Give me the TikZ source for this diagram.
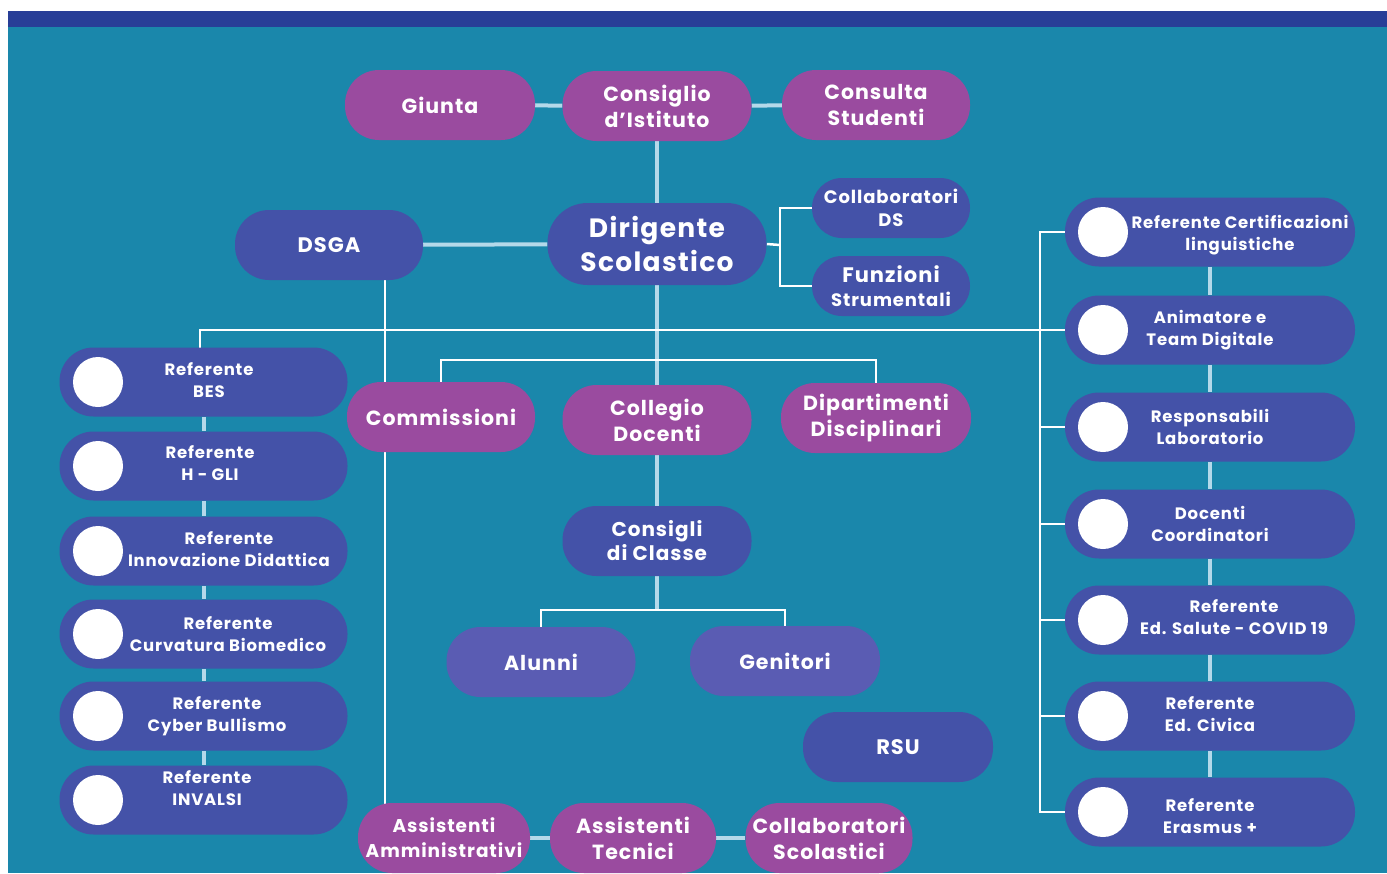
\documentclass[tikz,border=0pt]{standalone}
\usepackage{fontspec}
\setmainfont{Poppins}[LetterSpace=5]
\usetikzlibrary{calc}
\definecolor{tealbg}{HTML}{1A87AB}
\definecolor{bandc}{HTML}{283E97}
\definecolor{magc}{HTML}{9A4B9F}
\definecolor{bluc}{HTML}{4452A8}
\definecolor{lbluc}{HTML}{5A5CB3}
\definecolor{connc}{HTML}{B4D9EA}
\pgfdeclarelayer{bg}
\pgfdeclarelayer{lines}
\pgfsetlayers{bg,lines,main}
\tikzset{
  box/.style={rounded corners=34pt, minimum height=70pt, inner sep=0pt, text=white, align=center,
              font=\bfseries\fontsize{20.5}{26}\selectfont},
  mag/.style={box, fill=magc},
  blu/.style={box, fill=bluc},
  lblu/.style={box, fill=lbluc},
  colbox/.style={box, fill=bluc, minimum width=288pt, minimum height=69pt},
  ctext/.style={text=white, align=center, inner sep=0pt, font=\bfseries\fontsize{16.5}{21.5}\selectfont},
  dot/.style={circle, fill=white, minimum size=50pt, inner sep=0pt},
  wl/.style={draw=white, line width=2.5pt},
  lb/.style={draw=connc, line width=4pt},
}
\begin{document}
\begin{tikzpicture}[x=1pt,y=-1pt]
\useasboundingbox (0,0) rectangle (1387,873);
\begin{pgfonlayer}{bg}
\fill[white] (0,0) rectangle (1387,873);
\fill[tealbg] (8,11) rectangle (1387,873);
\fill[bandc] (8,11) rectangle (1387,27);
\end{pgfonlayer}

% top
\node[mag, minimum width=190pt] (giunta) at (440,105) {Giunta};
\node[mag, minimum width=189pt] (cdi) at (657,106) {Consiglio\\d’Istituto};
\node[mag, minimum width=188pt] (cst) at (876,105) {Consulta\\Studenti};
\node[blu, minimum width=219pt, minimum height=82pt, rounded corners=40pt,
      font=\bfseries\fontsize{26.5}{34}\selectfont] (ds) at (657,244) {Dirigente\\Scolastico};
\node[blu, minimum width=188pt, font=\bfseries\fontsize{21}{26}\selectfont] (dsga) at (329,245) {DSGA};
\node[blu, minimum width=158pt, minimum height=60pt, rounded corners=30pt,
      font=\bfseries\fontsize{18}{23}\selectfont] (cds) at (891,208) {Collaboratori\\DS};
\node[blu, minimum width=158pt, minimum height=60pt, rounded corners=30pt,
      font=\bfseries\fontsize{21}{24}\selectfont] (fs) at (891,286) {Funzioni\\{\fontsize{18}{22}\selectfont Strumentali}};

% middle
\node[mag, minimum width=188pt] (comm) at (441,417) {Commissioni};
\node[mag, minimum width=189pt] (coll) at (657,420) {Collegio\\Docenti};
\node[mag, minimum width=190pt] (dip) at (876,418) {Dipartimenti\\Disciplinari};
\node[blu, minimum width=189pt, font=\bfseries\fontsize{20}{24}\selectfont] (cons) at (657,541) {Consigli\\di Classe};
\node[lblu, minimum width=189pt] (alu) at (541,662) {Alunni};
\node[lblu, minimum width=190pt] (gen) at (785,661) {Genitori};
\node[blu, minimum width=190pt, font=\bfseries\fontsize{21}{26}\selectfont] (rsu) at (898,747) {RSU};

% bottom
\node[mag, minimum width=172pt, font=\bfseries\fontsize{18.5}{25}\selectfont] (aa) at (444,838) {Assistenti\\Amministrativi};
\node[mag, minimum width=166pt] (at) at (633,838) {Assistenti\\Tecnici};
\node[mag, minimum width=167pt] (cs) at (829,838) {Collaboratori\\Scolastici};

% left column
\foreach \n/\y in {l1/382,l2/466,l3/551,l4/634,l5/716,l6/800}{
  \node[colbox] (\n) at (203.5,\y) {};
  \node[dot] (\n c) at (98,\y) {};
}
\node[ctext] (l1t) at (209,380) {Referente\\BES};
\node[ctext] (l2t) at (210,463) {Referente\\H - GLI};
\node[ctext] (l3t) at (229,549) {Referente\\Innovazione Didattica};
\node[ctext] (l4t) at (228,634) {Referente\\Curvatura Biomedico};
\node[ctext] (l5t) at (217,716) {Referente\\Cyber Bullismo};
\node[ctext] (l6t) at (207,788) {Referente\\INVALSI};

% right column
\foreach \n/\y in {r1/232,r2/330,r3/427,r4/524,r5/620,r6/716,r7/812}{
  \node[colbox, minimum width=290pt] (\n) at (1210,\y) {};
  \node[dot] (\n c) at (1103,\y) {};
}
\node[ctext] (r1t) at (1240,235) {Referente Certificazioni\\linguistiche};
\node[ctext] (r2t) at (1210,330) {Animatore e\\Team Digitale};
\node[ctext] (r3t) at (1210,427) {Responsabili\\Laboratorio};
\node[ctext] (r4t) at (1210,524) {Docenti\\Coordinatori};
\node[ctext] (r5t) at (1234,617) {Referente\\Ed. Salute - COVID 19};
\node[ctext] (r6t) at (1210,714) {Referente\\Ed. Civica};
\node[ctext] (r7t) at (1210,816) {Referente\\Erasmus +};

% junction coordinates
\coordinate (bk) at (780,245);
\coordinate (jc) at (657,360);
\coordinate (jc2) at (657,610);
\coordinate (hl) at (200,330);
\coordinate (hr) at (1040,330);
\coordinate (dv) at (385,245);

\begin{pgfonlayer}{lines}
\draw[lb] (giunta) -- (cdi);
\draw[lb] (cdi) -- (cst);
\draw[lb] (cdi) -- (ds);
\draw[lb] (dsga) -- (ds);
\draw[wl] (ds.east) -- (bk);
\draw[wl] (cds.west) -- (cds.west -| bk) -- (fs.west -| bk) -- (fs.west);
\draw[lb] (ds) -- (coll);
\draw[wl] (comm.center) |- (jc) -| (dip.center);
\draw[lb] (coll) -- (cons);
\draw[lb] (cons) -- (jc2);
\draw[wl] (alu.center) |- (jc2) -| (gen.center);
\draw[wl] (dv |- dsga.center) -- (dv |- aa.center);
\draw[lb] (aa) -- (at);
\draw[lb] (at) -- (cs);
\draw[wl] (hl |- l1.center) -- (hl) -- (r2.center);
\draw[wl] (r1.center) -- (r1.center -| hr) -- (r7.center -| hr) -- (r7.center);
\foreach \n in {r3,r4,r5,r6}{ \draw[wl] (\n.center -| hr) -- (\n.center); }
\draw[lb] (l1) -- (l2);
\draw[lb] (l2) -- (l3);
\draw[lb] (l3) -- (l4);
\draw[lb] (l4) -- (l5);
\draw[lb] (l5) -- (l6);
\draw[lb] (r1) -- (r2);
\draw[lb] (r2) -- (r3);
\draw[lb] (r3) -- (r4);
\draw[lb] (r4) -- (r5);
\draw[lb] (r5) -- (r6);
\draw[lb] (r6) -- (r7);
\end{pgfonlayer}
\end{tikzpicture}
\end{document}
